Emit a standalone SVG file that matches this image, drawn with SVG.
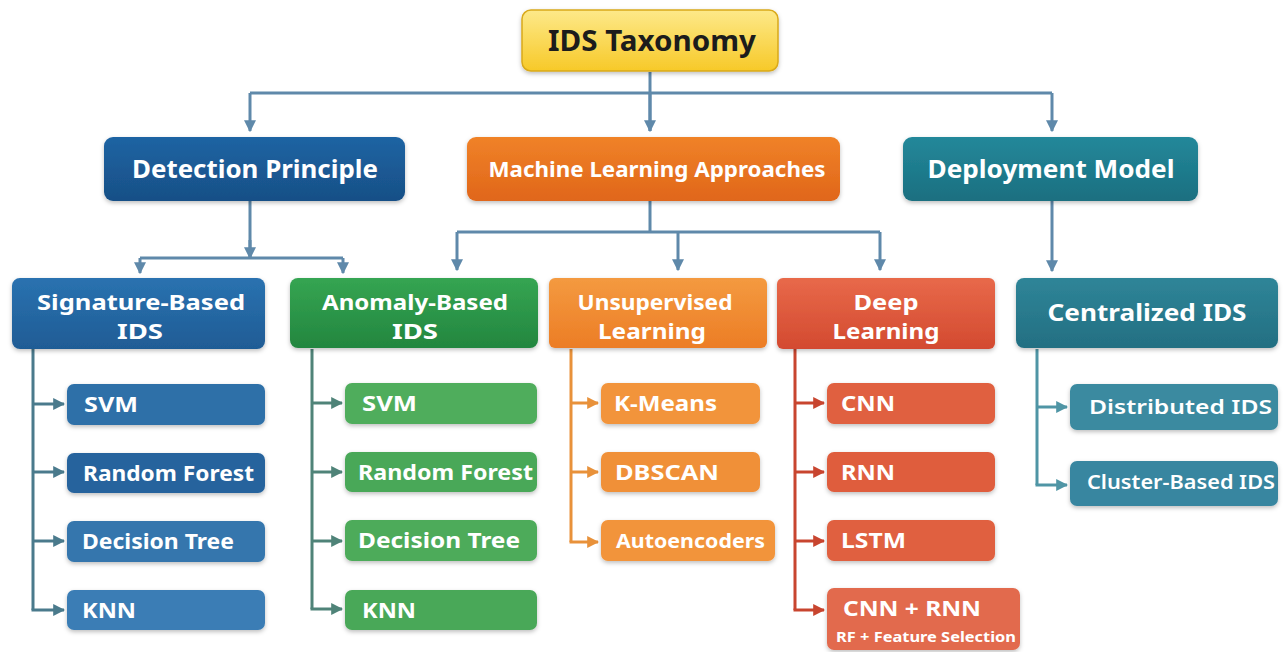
<svg xmlns="http://www.w3.org/2000/svg" width="1283" height="652" viewBox="0 0 1283 652">
<defs>
<linearGradient id="gY" x1="0" y1="0" x2="0" y2="1"><stop offset="0" stop-color="#fde98a"/><stop offset="1" stop-color="#f7c928"/></linearGradient>
<linearGradient id="gB" x1="0" y1="0" x2="0" y2="1"><stop offset="0" stop-color="#1f64a3"/><stop offset="1" stop-color="#174f86"/></linearGradient>
<linearGradient id="gO" x1="0" y1="0" x2="0" y2="1"><stop offset="0" stop-color="#f08228"/><stop offset="1" stop-color="#e0661a"/></linearGradient>
<linearGradient id="gT" x1="0" y1="0" x2="0" y2="1"><stop offset="0" stop-color="#23889a"/><stop offset="1" stop-color="#1a6f80"/></linearGradient>
<linearGradient id="gB2" x1="0" y1="0" x2="0" y2="1"><stop offset="0" stop-color="#2a72b0"/><stop offset="1" stop-color="#1f5c95"/></linearGradient>
<linearGradient id="gG" x1="0" y1="0" x2="0" y2="1"><stop offset="0" stop-color="#35a552"/><stop offset="1" stop-color="#23863f"/></linearGradient>
<linearGradient id="gO2" x1="0" y1="0" x2="0" y2="1"><stop offset="0" stop-color="#f49a40"/><stop offset="1" stop-color="#ec7d25"/></linearGradient>
<linearGradient id="gR" x1="0" y1="0" x2="0" y2="1"><stop offset="0" stop-color="#e8694a"/><stop offset="1" stop-color="#d34a30"/></linearGradient>
<linearGradient id="gT2" x1="0" y1="0" x2="0" y2="1"><stop offset="0" stop-color="#2f8598"/><stop offset="1" stop-color="#236f82"/></linearGradient>
<filter id="sh" x="-10%" y="-20%" width="120%" height="150%"><feDropShadow dx="0" dy="2" stdDeviation="2" flood-color="#000" flood-opacity="0.25"/></filter>
<marker id="aS" viewBox="0 0 10 10" refX="9" refY="5" markerWidth="4" markerHeight="4" orient="auto"><path d="M0,0 L10,5 L0,10 z" fill="#5f89aa"/></marker>
<marker id="aBl" viewBox="0 0 10 10" refX="9" refY="5" markerWidth="4" markerHeight="4" orient="auto"><path d="M0,0 L10,5 L0,10 z" fill="#4a7a8c"/></marker>
<marker id="aGr" viewBox="0 0 10 10" refX="9" refY="5" markerWidth="4" markerHeight="4" orient="auto"><path d="M0,0 L10,5 L0,10 z" fill="#4f8378"/></marker>
<marker id="aOr" viewBox="0 0 10 10" refX="9" refY="5" markerWidth="4" markerHeight="4" orient="auto"><path d="M0,0 L10,5 L0,10 z" fill="#e8913a"/></marker>
<marker id="aRd" viewBox="0 0 10 10" refX="9" refY="5" markerWidth="4" markerHeight="4" orient="auto"><path d="M0,0 L10,5 L0,10 z" fill="#c8452f"/></marker>
<marker id="aTl" viewBox="0 0 10 10" refX="9" refY="5" markerWidth="4" markerHeight="4" orient="auto"><path d="M0,0 L10,5 L0,10 z" fill="#4f95a5"/></marker>
</defs>
<style>
text{font-family:"Noto Sans","Open Sans","Liberation Sans",sans-serif;font-weight:bold;fill:#fff}
.box{filter:url(#sh)}
.c{text-anchor:middle}
.t1{font-size:25px}
.t2{font-size:21px}
.lf{font-size:21px}
.ln{fill:none;stroke-width:3}
.s{stroke:#5f89aa}
</style>
<g id="connectors">
<path class="ln s" d="M650,72 V131"/>
<path class="ln s" d="M250,93 H1052"/>
<path class="ln s" d="M250,93 V131" marker-end="url(#aS)"/>
<path class="ln s" d="M650,93 V131" marker-end="url(#aS)"/>
<path class="ln s" d="M1052,93 V131" marker-end="url(#aS)"/>
<path class="ln s" d="M250,201 V258 M140,258 H343"/>
<path class="ln s" d="M140,258 V273" marker-end="url(#aS)"/>
<path class="ln s" d="M343,258 V273" marker-end="url(#aS)"/>
<path class="ln s" d="M250,240 V258" marker-end="url(#aS)"/>
<path class="ln s" d="M650,201 V232 M457,232 H880"/>
<path class="ln s" d="M457,232 V270" marker-end="url(#aS)"/>
<path class="ln s" d="M678,232 V270" marker-end="url(#aS)"/>
<path class="ln s" d="M880,232 V270" marker-end="url(#aS)"/>
<path class="ln s" d="M1052,201 V271" marker-end="url(#aS)"/>
<g>
<path class="ln" stroke="#4a7a8c" d="M33,349 V610"/>
<path class="ln" stroke="#4a7a8c" d="M33,404 H64" marker-end="url(#aBl)"/>
<path class="ln" stroke="#4a7a8c" d="M33,472 H64" marker-end="url(#aBl)"/>
<path class="ln" stroke="#4a7a8c" d="M33,541 H64" marker-end="url(#aBl)"/>
<path class="ln" stroke="#4a7a8c" d="M31.5,610 H64" marker-end="url(#aBl)"/>
</g>
<g>
<path class="ln" stroke="#4f8378" d="M312,349 V609"/>
<path class="ln" stroke="#4f8378" d="M312,403 H342" marker-end="url(#aGr)"/>
<path class="ln" stroke="#4f8378" d="M312,472 H342" marker-end="url(#aGr)"/>
<path class="ln" stroke="#4f8378" d="M312,541 H342" marker-end="url(#aGr)"/>
<path class="ln" stroke="#4f8378" d="M310.5,609 H342" marker-end="url(#aGr)"/>
</g>
<g>
<path class="ln" stroke="#e8913a" d="M571,349 V542"/>
<path class="ln" stroke="#e8913a" d="M571,403 H598" marker-end="url(#aOr)"/>
<path class="ln" stroke="#e8913a" d="M571,472 H598" marker-end="url(#aOr)"/>
<path class="ln" stroke="#e8913a" d="M569.5,542 H598" marker-end="url(#aOr)"/>
</g>
<g>
<path class="ln" stroke="#c8452f" d="M795,349 V610"/>
<path class="ln" stroke="#c8452f" d="M795,403 H824" marker-end="url(#aRd)"/>
<path class="ln" stroke="#c8452f" d="M795,472 H824" marker-end="url(#aRd)"/>
<path class="ln" stroke="#c8452f" d="M795,541 H824" marker-end="url(#aRd)"/>
<path class="ln" stroke="#c8452f" d="M793.5,610 H824" marker-end="url(#aRd)"/>
</g>
<g>
<path class="ln" stroke="#4f95a5" d="M1037,349 V485"/>
<path class="ln" stroke="#4f95a5" d="M1037,407 H1067" marker-end="url(#aTl)"/>
<path class="ln" stroke="#4f95a5" d="M1035.5,485 H1067" marker-end="url(#aTl)"/>
</g>
</g>
<g id="root"><rect class="box" x="522" y="10" width="256" height="61" rx="9" fill="url(#gY)" stroke="#d9a91a" stroke-width="1.5"/><text class="c" x="652" y="51" textLength="208" lengthAdjust="spacingAndGlyphs" style="font-size:28px;fill:#1c1c1c">IDS Taxonomy</text></g>
<g id="detection"><rect class="box" x="104" y="137" width="301" height="64" rx="9" fill="url(#gB)"/><text class="c t1" x="255" y="178" textLength="246" lengthAdjust="spacingAndGlyphs">Detection Principle</text></g>
<g id="ml"><rect class="box" x="467" y="137" width="373" height="64" rx="9" fill="url(#gO)"/><text class="c" x="657" y="177" textLength="337" lengthAdjust="spacingAndGlyphs" style="font-size:22px">Machine Learning Approaches</text></g>
<g id="deployment"><rect class="box" x="903" y="137" width="295" height="64" rx="9" fill="url(#gT)"/><text class="c t1" x="1051" y="178" textLength="247" lengthAdjust="spacingAndGlyphs">Deployment Model</text></g>
<g id="signature"><rect class="box" x="12" y="278" width="253" height="71" rx="8" fill="url(#gB2)"/><text class="c t2" x="141" y="310" textLength="208" lengthAdjust="spacingAndGlyphs">Signature-Based</text><text class="c t2" x="140" y="339" textLength="46" lengthAdjust="spacingAndGlyphs">IDS</text></g>
<g id="anomaly"><rect class="box" x="290" y="278" width="248" height="70" rx="8" fill="url(#gG)"/><text class="c t2" x="415" y="310" textLength="186" lengthAdjust="spacingAndGlyphs">Anomaly-Based</text><text class="c t2" x="415" y="339" textLength="46" lengthAdjust="spacingAndGlyphs">IDS</text></g>
<g id="unsupervised"><rect class="box" x="549" y="278" width="218" height="70" rx="6" fill="url(#gO2)"/><text class="c t2" x="655" y="310" textLength="155" lengthAdjust="spacingAndGlyphs">Unsupervised</text><text class="c t2" x="652" y="339" textLength="108" lengthAdjust="spacingAndGlyphs">Learning</text></g>
<g id="deep"><rect class="box" x="777" y="278" width="218" height="71" rx="6" fill="url(#gR)"/><text class="c t2" x="886" y="310" textLength="65" lengthAdjust="spacingAndGlyphs">Deep</text><text class="c t2" x="886" y="339" textLength="107" lengthAdjust="spacingAndGlyphs">Learning</text></g>
<g id="centralized"><rect class="box" x="1016" y="278" width="262" height="70" rx="8" fill="url(#gT2)"/><text class="c" x="1147" y="321" textLength="199" lengthAdjust="spacingAndGlyphs" style="font-size:23px">Centralized IDS</text></g>
<g id="sig-svm"><rect class="box" x="67" y="384" width="198" height="41" rx="7" fill="#2f6fa8"/><text class="lf" x="84" y="412" textLength="54" lengthAdjust="spacingAndGlyphs">SVM</text></g>
<g id="sig-rf"><rect class="box" x="67" y="453" width="198" height="40" rx="7" fill="#28649d"/><text class="lf" x="83" y="481" textLength="171" lengthAdjust="spacingAndGlyphs">Random Forest</text></g>
<g id="sig-dt"><rect class="box" x="67" y="521" width="198" height="41" rx="7" fill="#3576ad"/><text class="lf" x="82" y="549" textLength="152" lengthAdjust="spacingAndGlyphs">Decision Tree</text></g>
<g id="sig-knn"><rect class="box" x="67" y="590" width="198" height="40" rx="7" fill="#3a7db5"/><text class="lf" x="82" y="618" textLength="54" lengthAdjust="spacingAndGlyphs">KNN</text></g>
<g id="ano-svm"><rect class="box" x="345" y="383" width="192" height="41" rx="7" fill="#50ad5c"/><text class="lf" x="362" y="411" textLength="55" lengthAdjust="spacingAndGlyphs">SVM</text></g>
<g id="ano-rf"><rect class="box" x="345" y="452" width="192" height="40" rx="7" fill="#4aa858"/><text class="lf" x="358" y="480" textLength="175" lengthAdjust="spacingAndGlyphs">Random Forest</text></g>
<g id="ano-dt"><rect class="box" x="345" y="520" width="192" height="41" rx="7" fill="#4eab5a"/><text class="lf" x="358" y="548" textLength="162" lengthAdjust="spacingAndGlyphs">Decision Tree</text></g>
<g id="ano-knn"><rect class="box" x="345" y="590" width="192" height="40" rx="7" fill="#4aa858"/><text class="lf" x="362" y="618" textLength="54" lengthAdjust="spacingAndGlyphs">KNN</text></g>
<g id="un-km"><rect class="box" x="601" y="383" width="159" height="41" rx="7" fill="#f2943a"/><text class="lf" x="614" y="411" textLength="103" lengthAdjust="spacingAndGlyphs">K-Means</text></g>
<g id="un-db"><rect class="box" x="601" y="452" width="159" height="40" rx="7" fill="#f09038"/><text class="lf" x="615" y="480" textLength="104" lengthAdjust="spacingAndGlyphs">DBSCAN</text></g>
<g id="un-ae"><rect class="box" x="601" y="520" width="174" height="41" rx="7" fill="#f2943a"/><text x="616" y="548" textLength="149" lengthAdjust="spacingAndGlyphs" style="font-size:20px">Autoencoders</text></g>
<g id="dl-cnn"><rect class="box" x="827" y="383" width="168" height="41" rx="7" fill="#e0603f"/><text class="lf" x="841" y="411" textLength="54" lengthAdjust="spacingAndGlyphs">CNN</text></g>
<g id="dl-rnn"><rect class="box" x="827" y="452" width="168" height="40" rx="7" fill="#df5d3d"/><text class="lf" x="841" y="480" textLength="54" lengthAdjust="spacingAndGlyphs">RNN</text></g>
<g id="dl-lstm"><rect class="box" x="827" y="520" width="168" height="41" rx="7" fill="#e0603f"/><text class="lf" x="841" y="548" textLength="65" lengthAdjust="spacingAndGlyphs">LSTM</text></g>
<g id="dl-cnnrnn"><rect class="box" x="827" y="588" width="193" height="62" rx="7" fill="#e26a4e"/><text x="843" y="616" textLength="138" lengthAdjust="spacingAndGlyphs" style="font-size:21px">CNN + RNN</text><text x="836" y="642" textLength="180" lengthAdjust="spacingAndGlyphs" style="font-size:14px">RF + Feature Selection</text></g>
<g id="dep-dist"><rect class="box" x="1070" y="384" width="208" height="46" rx="7" fill="#3a8aa0"/><text x="1089" y="414" textLength="183" lengthAdjust="spacingAndGlyphs" style="font-size:20px;font-weight:600">Distributed IDS</text></g>
<g id="dep-cluster"><rect class="box" x="1070" y="461" width="208" height="45" rx="7" fill="#3886a0"/><text x="1087" y="489" textLength="188" lengthAdjust="spacingAndGlyphs" style="font-size:19px;font-weight:600">Cluster-Based IDS</text></g>
</svg>
